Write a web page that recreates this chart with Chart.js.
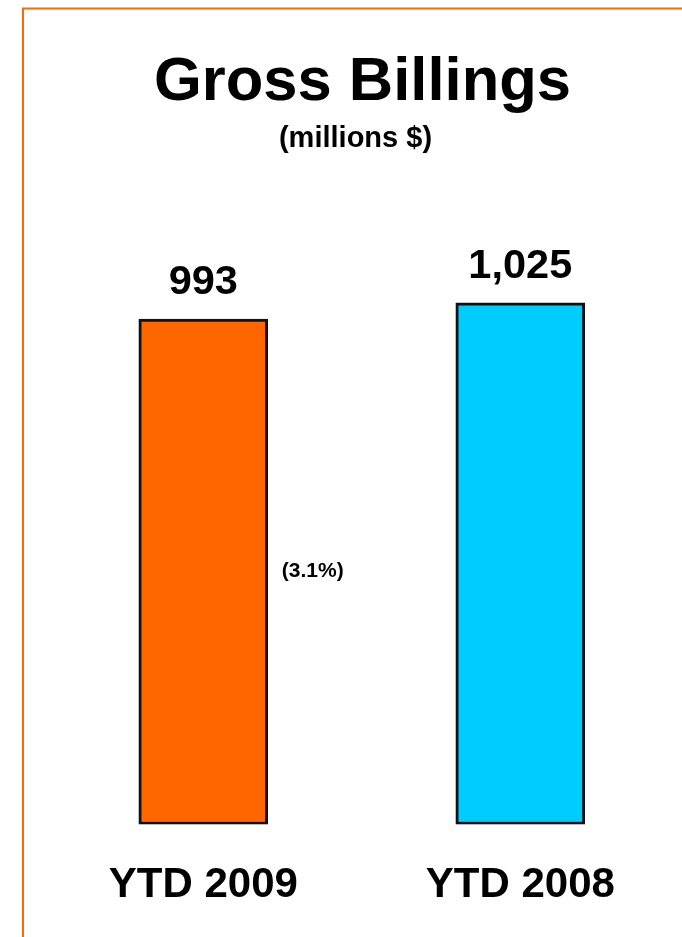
<!DOCTYPE html>
<html>
<head>
<meta charset="utf-8">
<script src="https://cdn.jsdelivr.net/npm/chart.js@4"></script>
<style>
html,body{margin:0;padding:0;background:#fff;}
#wrap{position:relative;width:682px;height:937px;overflow:hidden;}
</style>
</head>
<body>
<div id="wrap"><canvas id="c"></canvas></div>
<script>
const titleText = "Gross Billings";
const subtitleText = "(millions $)";
const categories = ["YTD 2009", "YTD 2008"];
const values = [993, 1025];
const valueLabels = ["993", "1,025"];
const changeLabel = "(3.1%)";
const barColors = ["#FF6600", "#00CCFF"];

const FONT = "Arial, 'Liberation Sans', Helvetica, sans-serif";

const decor = {
  id: 'decor',
  afterDraw(chart) {
    const ctx = chart.ctx;
    ctx.save();
    ctx.strokeStyle = '#FF6A00';
    ctx.lineWidth = 2;
    ctx.beginPath();
    ctx.moveTo(23, 937);
    ctx.lineTo(23, 8.5);
    ctx.lineTo(682, 8.5);
    ctx.stroke();

    ctx.fillStyle = '#000';
    ctx.textAlign = 'center';
    ctx.textBaseline = 'alphabetic';
    ctx.font = 'bold 61.5px ' + FONT;
    ctx.fillText(titleText, 362.5, 99.5);
    ctx.font = 'bold 29px ' + FONT;
    ctx.fillText(subtitleText, 355.5, 147);

    const meta = chart.getDatasetMeta(0);
    const xs = chart.scales.x;
    meta.data.forEach((bar, i) => {
      ctx.font = 'bold 41.5px ' + FONT;
      ctx.fillText(valueLabels[i], bar.x, bar.y - 25);
      ctx.font = 'bold 42px ' + FONT;
      ctx.fillText(categories[i], xs.getPixelForValue(i), 897);
    });
    const b0 = meta.data[0];
    ctx.textAlign = 'left';
    ctx.font = 'bold 21px ' + FONT;
    ctx.fillText(changeLabel, b0.x + b0.width / 2 + 14, 577);
    ctx.restore();
  }
};

new Chart(document.getElementById('c'), {
  type: 'bar',
  data: {
    labels: categories,
    datasets: [{
      data: values,
      backgroundColor: barColors,
      borderColor: '#111',
      borderWidth: 3,
      borderSkipped: false,
      barThickness: 129
    }]
  },
  options: {
    responsive: true,
    maintainAspectRatio: false,
    animation: false,
    layout: { padding: { left: 44.8, right: 3.2, top: 213.7, bottom: 112.5 } },
    plugins: { legend: { display: false }, tooltip: { enabled: false }, title: { display: false } },
    scales: {
      x: { display: false },
      y: { display: false, min: 0, max: 1200 }
    }
  },
  plugins: [decor]
});
</script>
</body>
</html>
